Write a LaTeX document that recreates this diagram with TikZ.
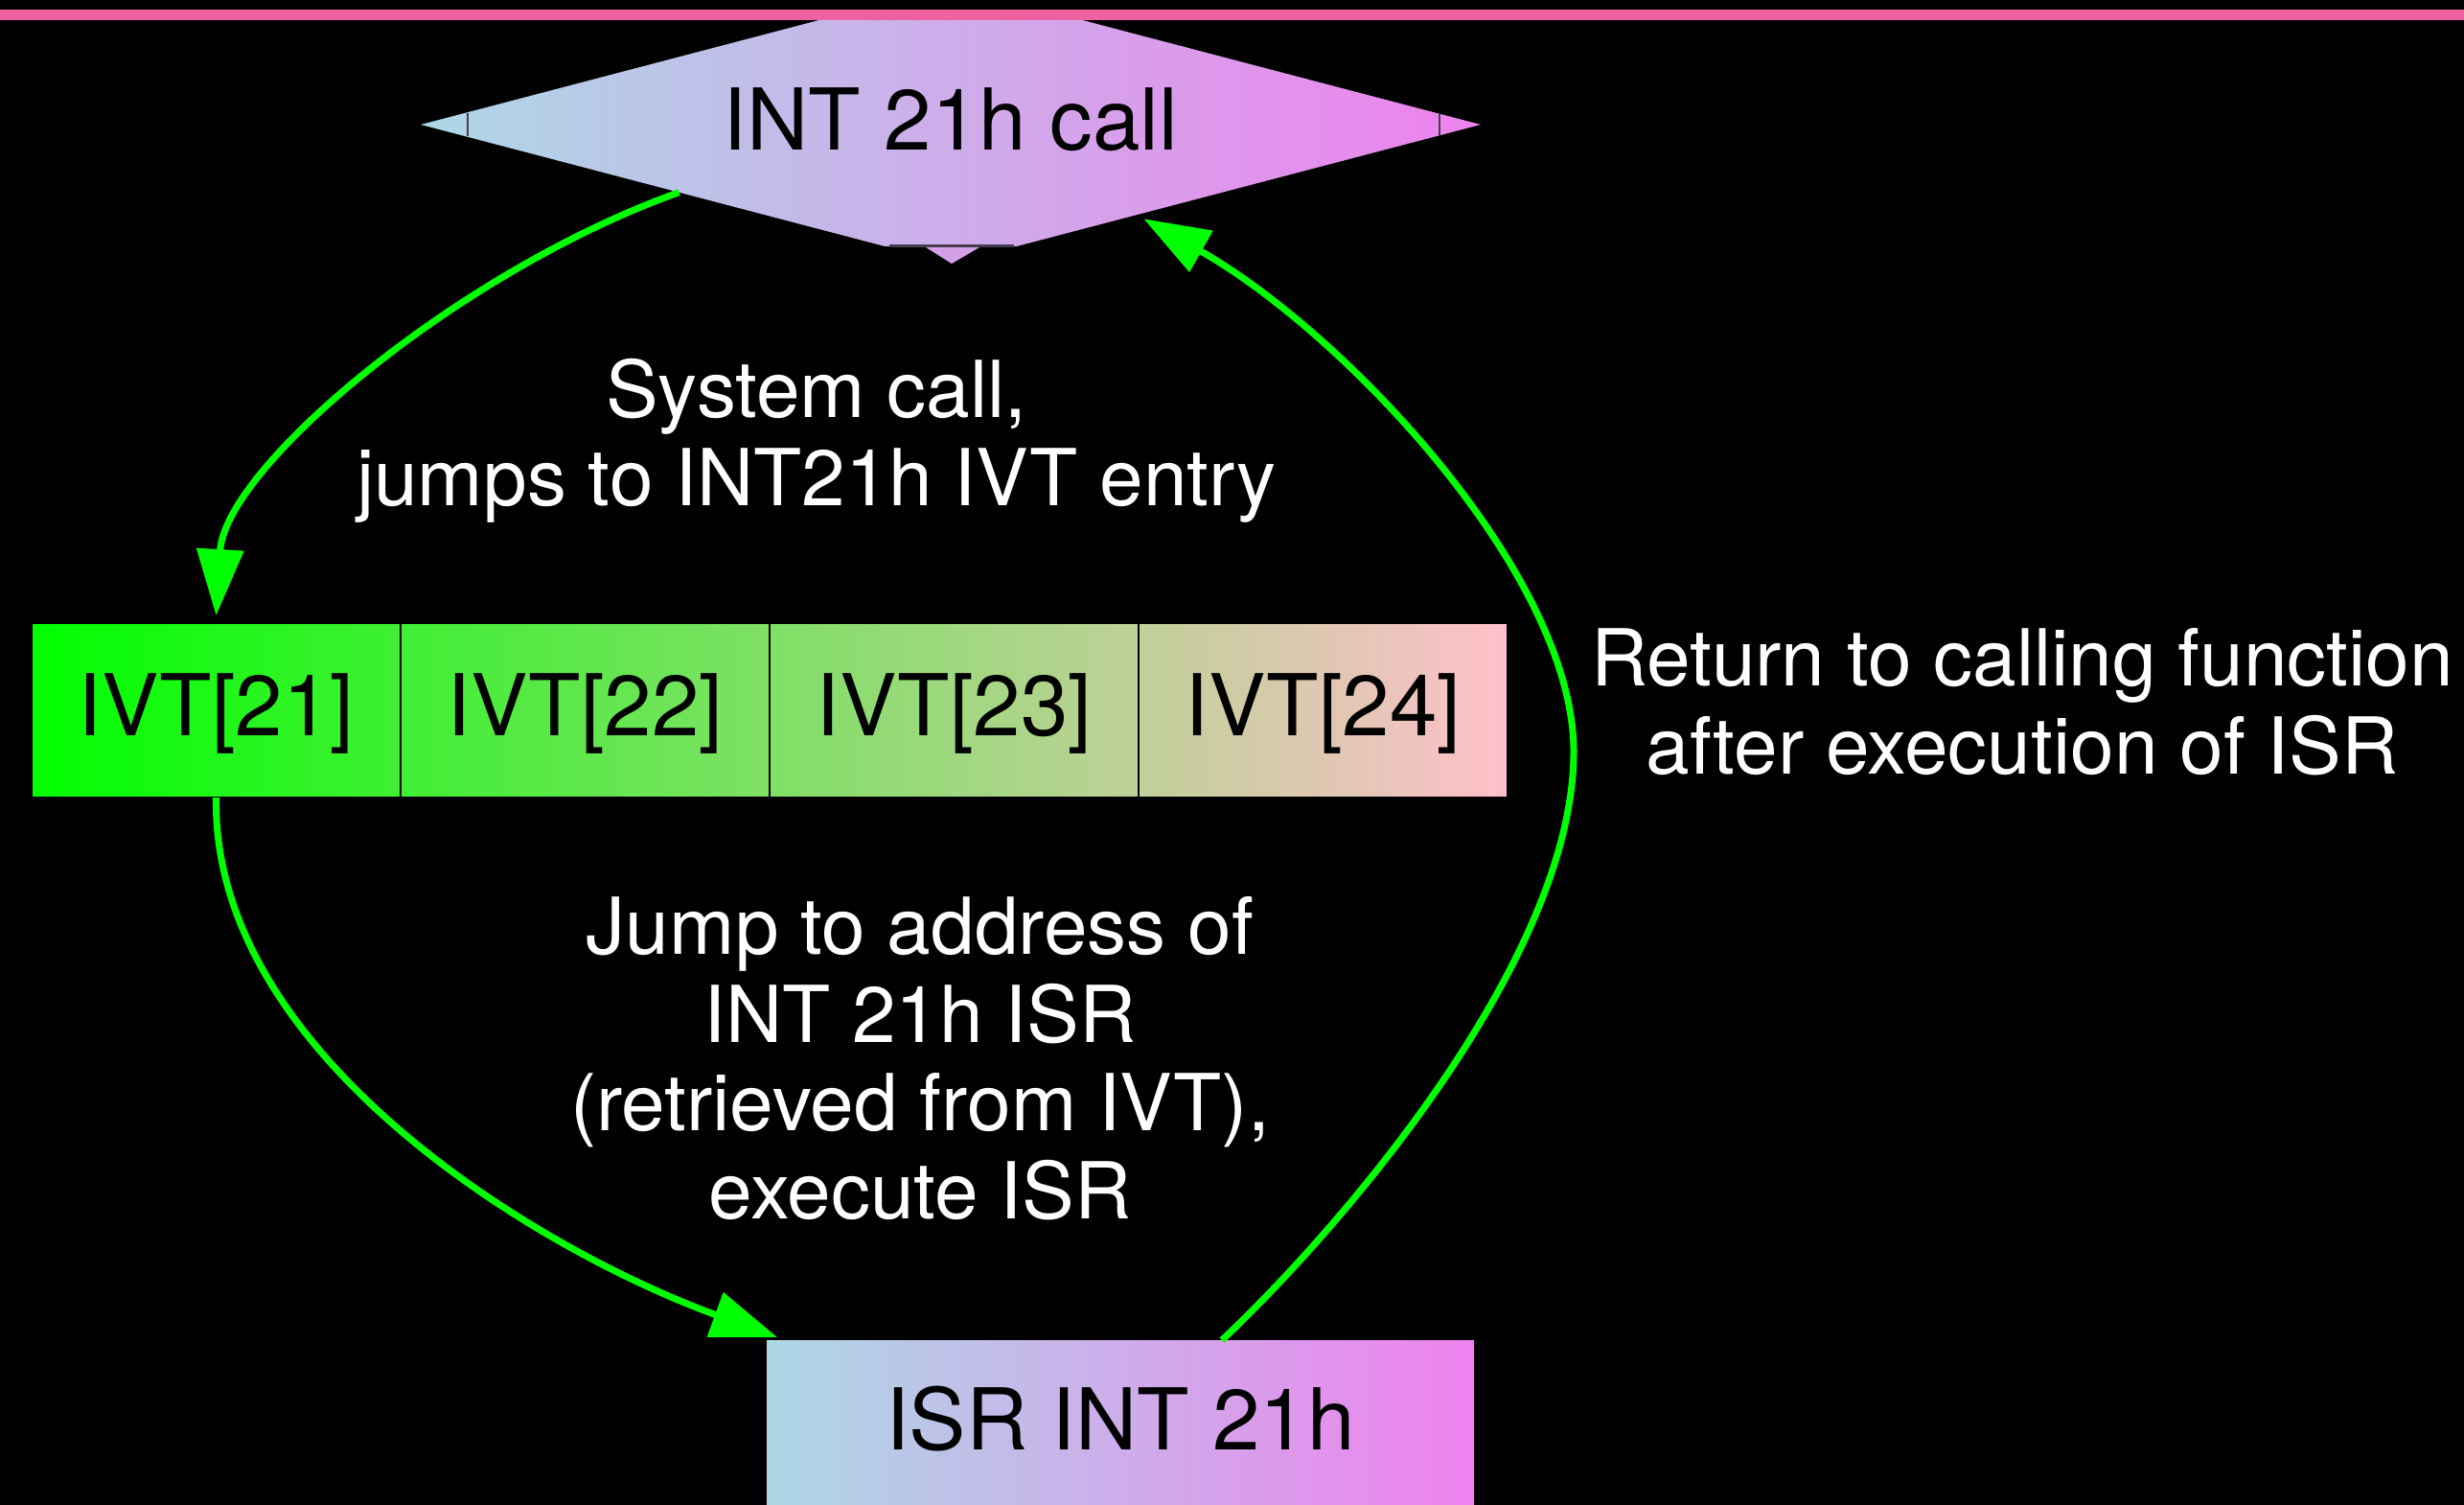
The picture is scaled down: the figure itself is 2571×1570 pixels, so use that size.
\documentclass[tikz,border=0pt]{standalone}
\usepackage{fontspec}
\setmainfont{TeX Gyre Heros}
\usetikzlibrary{shapes.geometric,arrows.meta}
\definecolor{lblue}{RGB}{173,216,230}
\definecolor{viol}{RGB}{238,130,238}
\definecolor{pinkc}{RGB}{255,192,203}
\definecolor{gr}{RGB}{0,255,0}
\definecolor{band}{RGB}{239,98,161}
\definecolor{artf}{RGB}{70,60,80}
\definecolor{tipc}{RGB}{214,160,232}
\begin{document}
\begin{tikzpicture}[x=1pt,y=-1pt,
  nodefont/.style={font=\fontsize{89}{92}\selectfont},
  cell/.style={draw=black, line width=2.5pt, minimum width=385pt, minimum height=182pt,
    inner sep=0pt, outer sep=0pt, nodefont, text height=64pt, text depth=12pt},
  conn/.style={draw=gr, line width=7pt, -{Triangle[length=69pt,width=48pt]}},
  lbl/.style={anchor=base, inner sep=0pt, text=white, font=\fontsize{82}{92}\selectfont},
  artline/.style={draw=artf, line width=3pt}
]
\useasboundingbox (0,0) rectangle (2571,1570);
\fill[black] (0,0) rectangle (2571,1570);

% diamond
\begin{scope}
\clip (0,21) rectangle (2571,257);
\node[diamond, aspect=3.8, minimum width=1106pt, minimum height=290pt, inner sep=0pt,
  outer sep=0pt, left color=lblue, right color=viol, nodefont,
  text height=64pt, text depth=10pt] (call) at (992,130) {INT 21h call};
\end{scope}
\fill[tipc] (966,258) -- (1022,258) -- (993,275) -- cycle;
\draw[artline] (928,257) -- (1058,257);
\draw[artline, line width=2pt] (488,118) -- (488,142);
\draw[artline, line width=2pt] (1502,119) -- (1502,141);

% top band
\fill[black] (0,0) rectangle (2571,10);
\fill[band] (0,10) rectangle (2571,21);

% IVT bar
\shade[left color=gr, right color=pinkc] (33,650) rectangle (1573,832);
\node[cell] (ivt21) at (225.5,741) {IVT[21]};
\node[cell] (ivt22) at (610.5,741) {IVT[22]};
\node[cell] (ivt23) at (995.5,741) {IVT[23]};
\node[cell] (ivt24) at (1380.5,741) {IVT[24]};

% ISR box
\node[minimum width=738pt, minimum height=190pt, inner sep=0pt, outer sep=0pt,
  left color=lblue, right color=viol, nodefont, text height=64pt, text depth=26pt]
  (isr) at (1169,1493) {ISR INT 21h};

% connectors
\draw[conn] (call.194) .. controls (480,282) and (235,487) .. ([yshift=8pt]ivt21.north);
\draw[conn] (ivt21.south) .. controls (221,1100) and (561,1304) .. ([xshift=11pt,yshift=3pt]isr.north west);
\draw[conn] ([xshift=106pt]isr.north) .. controls (1400,1280) and (1642,1000) .. (1642,784)
  .. controls (1642,600) and (1403,347) .. ([xshift=8pt,yshift=-4pt]call.334);

% labels
\node[lbl] (l1) at (852,435) {\begin{tabular}[t]{@{}c@{}}System call,\\jumps to INT21h IVT entry\end{tabular}};
\node[lbl] (l2) at (960,995) {\begin{tabular}[t]{@{}c@{}}Jump to address of\\INT 21h ISR\\(retrieved from IVT),\\execute ISR\end{tabular}};
\node[lbl] (l3) at (2110,715) {\begin{tabular}[t]{@{}c@{}}Return to calling function\\after execution of ISR\end{tabular}};
\end{tikzpicture}
\end{document}
